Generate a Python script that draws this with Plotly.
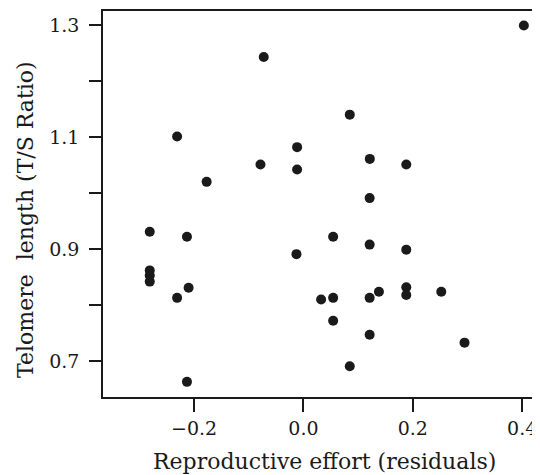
import plotly.graph_objects as go

# Data
effort = [-0.0726, -0.231, -0.177, -0.0786, -0.0116, -0.0116,
          0.403, 0.0847, 0.1213, 0.188, 0.121,
          -0.281, -0.213, -0.281, -0.281, -0.281, -0.231, -0.21, -0.213, -0.0128,
          0.0543, 0.121, 0.188, 0.188, 0.188, 0.138, 0.252, 0.0323, 0.0543, 0.121,
          0.0543, 0.121, 0.2945, 0.0847]
telomere = [1.243, 1.101, 1.020, 1.051, 1.082, 1.042,
            1.299, 1.140, 1.061, 1.051, 0.991,
            0.931, 0.922, 0.862, 0.853, 0.842, 0.813, 0.831, 0.663, 0.891,
            0.922, 0.908, 0.899, 0.832, 0.818, 0.824, 0.824, 0.810, 0.813, 0.813,
            0.772, 0.747, 0.733, 0.691]

x_tickvals = [-0.2, 0.0, 0.2, 0.4]
x_ticktext = ["\u22120.2", "0.0", "0.2", "0.4"]
y_tickvals = [0.7, 0.8, 0.9, 1.0, 1.1, 1.2, 1.3]
y_ticktext = ["0.7", "", "0.9", "", "1.1", "", "1.3"]

x_title = "Reproductive effort (residuals)"
y_title = "Telomere  length (T/S Ratio)"

FONT = "DejaVu Serif"
ink = "#1a1a1a"

fig = go.Figure(go.Scatter(
    x=effort, y=telomere, mode="markers",
    marker=dict(size=10, color=ink),
    hoverinfo="skip",
))

# page body has an 8px default margin, so the figure is 8px smaller
fig.update_layout(
    width=532, height=467,
    margin=dict(l=95, r=3, t=1, b=78),
    paper_bgcolor="white", plot_bgcolor="white",
    showlegend=False,
    font=dict(family=FONT, size=19, color=ink),
    annotations=[
        dict(text=x_title, xref="paper", yref="paper", x=0.51, y=-0.168,
             xanchor="center", yanchor="middle", showarrow=False,
             font=dict(family=FONT, size=22, color=ink)),
        dict(text=y_title, xref="paper", yref="paper", x=-0.18, y=0.461,
             xanchor="center", yanchor="middle", showarrow=False, textangle=-90,
             font=dict(family=FONT, size=22, color=ink)),
    ],
)
fig.update_xaxes(
    range=[-0.3665, 0.427],
    tickvals=x_tickvals, ticktext=x_ticktext,
    ticks="outside", ticklen=13, tickwidth=2, tickcolor=ink,
    showline=True, linecolor=ink, linewidth=1.5, mirror=True,
    showgrid=False, zeroline=False,
    tickfont=dict(family=FONT, size=19, color=ink),
)
fig.update_yaxes(
    range=[0.636, 1.325],
    tickvals=y_tickvals, ticktext=y_ticktext,
    ticks="outside", ticklen=12, tickwidth=2, tickcolor=ink,
    ticklabelstandoff=6,
    showline=True, linecolor=ink, linewidth=1.5, mirror=True,
    showgrid=False, zeroline=False,
    tickfont=dict(family=FONT, size=19, color=ink),
)

fig.write_html("out.html")
